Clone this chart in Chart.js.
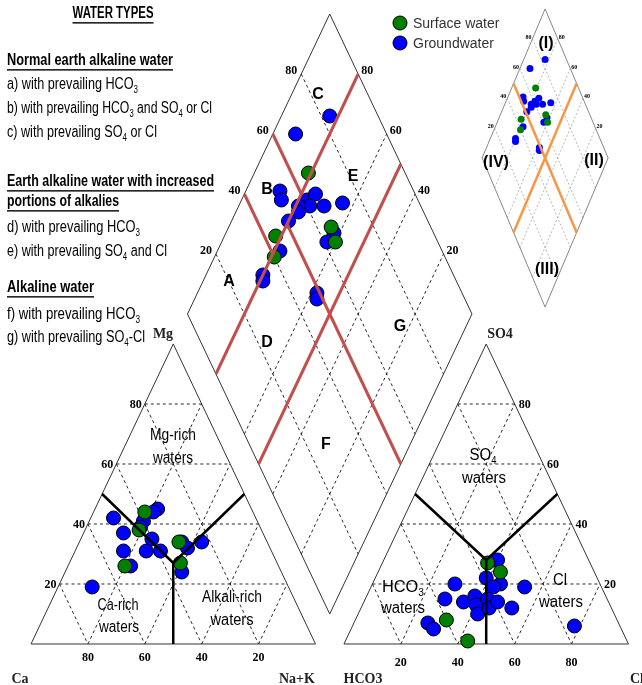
<!DOCTYPE html>
<html>
<head>
<meta charset="utf-8">
<script src="https://cdn.jsdelivr.net/npm/chart.js@4.4.0/dist/chart.umd.min.js"></script>
<style>
body { margin: 0; background: #fff; }
</style>
</head>
<body>
<canvas id="piper" width="642" height="685"></canvas>
<script>
// cation triangle, each sample [Ca, Mg, Na+K] in %
const gwCations = [[69, 19, 12], [50, 42, 8], [49, 37, 14], [52, 31, 17], [52, 26, 22], [40, 41, 19],
  [33, 45, 22], [35, 44, 21], [40, 35, 25], [44, 31, 25], [39, 31, 30], [42, 39, 19],
  [30, 34, 36], [29, 32, 39], [23, 34, 43], [35, 24, 41]];
const swCations = [[38, 44, 18], [43, 38, 19], [54, 26, 20], [31, 34, 35], [34, 27, 39]];

// anion triangle, each sample [HCO3, SO4, Cl] in %
const gwAnions = [[32, 28, 40], [39, 22, 39], [35, 20, 45], [38, 19, 43], [27, 19, 54], [51, 20, 29],
  [57, 15, 28], [51, 14, 35], [46, 16, 38], [47, 13, 40], [48, 10, 42], [42, 15, 43],
  [43, 12, 45], [39, 14, 47], [35, 12, 53], [67, 7, 26], [66, 5, 29], [16, 6, 78]];
const swAnions = [[36, 27, 37], [33, 24, 43], [60, 8, 32], [56, 1, 43]];

// diamond, each sample [Na+K, SO4+Cl] in %
const gwDiamond = [[17, 83], [8, 68], [12, 53], [14, 52], [23, 61], [25, 65], [25, 61], [21, 57],
  [22, 56], [20, 51], [30, 66], [36, 73], [38, 65], [37, 61], [22, 43], [20, 33], [21, 32],
  [42, 49], [43, 48]];
const swDiamond = [[19, 66], [18, 44], [21, 40], [36, 65], [40, 64]];

const gridTicks = [20, 40, 60, 80];

// ternary -> plot units (triangle side 100, gap 10)
function cat(p) { return {x: p[2] + p[1] / 2, y: p[1]}; }
function an(p) { return {x: 110 + p[2] + p[1] / 2, y: p[1]}; }
function dia(na, s) { return {x: 55 + (na + s) / 2, y: 110 + s - na}; }
// the small copy of the diamond, top right
function small(pt) { return {x: 180.7 + (pt.x - 105) * 0.443, y: 162 + (pt.y - 110) * 0.497}; }

const datasets = [];
function line(pts, color, width, dash, order) {
  datasets.push({data: pts, showLine: true, borderColor: color, borderWidth: width,
    borderDash: dash || [], pointRadius: 0, pointHoverRadius: 0, order: order});
}
function dots(pts, color, r, border, order) {
  datasets.push({data: pts, showLine: false, backgroundColor: color,
    borderColor: border ? '#000' : color, borderWidth: border ? 1 : 0,
    pointRadius: r, pointHoverRadius: r, order: order});
}

// dashed grids
gridTicks.forEach(v => {
  line([cat([100 - v, v, 0]), cat([0, v, 100 - v])], '#111', 0.9, [3, 3], 5);
  line([cat([v, 100 - v, 0]), cat([v, 0, 100 - v])], '#111', 0.9, [3, 3], 5);
  line([cat([100 - v, 0, v]), cat([0, 100 - v, v])], '#111', 0.9, [3, 3], 5);
  line([an([100 - v, v, 0]), an([0, v, 100 - v])], '#111', 0.9, [3, 3], 5);
  line([an([v, 100 - v, 0]), an([v, 0, 100 - v])], '#111', 0.9, [3, 3], 5);
  line([an([100 - v, 0, v]), an([0, 100 - v, v])], '#111', 0.9, [3, 3], 5);
  line([dia(v, 0), dia(v, 100)], '#111', 0.9, [3, 3], 5);
  line([dia(0, v), dia(100, v)], '#111', 0.9, [3, 3], 5);
  line([small(dia(v, 0)), small(dia(v, 100))], '#999', 0.7, [2, 2], 5);
  line([small(dia(0, v)), small(dia(100, v))], '#999', 0.7, [2, 2], 5);
});

// frames
line([cat([100, 0, 0]), cat([0, 0, 100]), cat([0, 100, 0]), cat([100, 0, 0])], '#333', 1, null, 4);
line([an([100, 0, 0]), an([0, 0, 100]), an([0, 100, 0]), an([100, 0, 0])], '#333', 1, null, 4);
line([dia(0, 0), dia(100, 0), dia(100, 100), dia(0, 100), dia(0, 0)], '#333', 1, null, 4);
line([dia(0, 0), dia(100, 0), dia(100, 100), dia(0, 100), dia(0, 0)].map(small), '#888', 1, null, 4);

// samples
dots(gwCations.map(cat), '#0000ff', 7, true, 3);
dots(swCations.map(cat), '#008000', 7, true, 2);
dots(gwAnions.map(an), '#0000ff', 7, true, 3);
dots(swAnions.map(an), '#008000', 7, true, 2);
dots(gwDiamond.map(p => dia(p[0], p[1])), '#0000ff', 7, true, 3);
dots(swDiamond.map(p => dia(p[0], p[1])), '#008000', 7, true, 2);
dots(gwDiamond.map(p => small(dia(p[0], p[1]))), '#0000ff', 3.5, false, 3);
dots(swDiamond.map(p => small(dia(p[0], p[1]))), '#008000', 3.5, false, 2);

// water type borders
const red = '#c0504d';
line([dia(20, 100), dia(20, 0)], red, 3, null, 0);
line([dia(50, 100), dia(50, 0)], red, 3, null, 0);
line([dia(20, 50), dia(100, 50)], red, 3, null, 0);
line([dia(0, 60), dia(20, 60)], red, 3, null, 0);
line([dia(0, 40), dia(20, 40)], red, 3, null, 0);
line([small(dia(50, 100)), small(dia(50, 0))], '#f79646', 2.5, null, 0);
line([small(dia(0, 50)), small(dia(100, 50))], '#f79646', 2.5, null, 0);

// facies lines
const jc = cat([36.5, 27, 36.5]), ja = an([36, 28, 36]);
line([cat([50, 50, 0]), jc, cat([0, 50, 50])], '#000', 2.5, null, 0);
line([jc, cat([50, 0, 50])], '#000', 2.5, null, 0);
line([an([50, 50, 0]), ja, an([0, 50, 50])], '#000', 2.5, null, 0);
line([ja, an([50, 0, 50])], '#000', 2.5, null, 0);

const narrow = '"Liberation Sans Narrow", "Liberation Sans", Arial, sans-serif';
const serif = '"Liberation Serif", "Times New Roman", serif';

// text with "_4" style subscripts, optionally squeezed to a width
function rich(ctx, str, x, y, o) {
  const parts = str.split(/_(\d)/);
  const wt = o.bold ? 'bold ' : '';
  const big = wt + o.size + 'px ' + o.family;
  const sub = wt + Math.round(o.size * 0.65) + 'px ' + o.family;
  let w = 0;
  parts.forEach((t, i) => { ctx.font = i % 2 ? sub : big; w += ctx.measureText(t).width; });
  const k = o.width ? o.width / w : 1;
  const x0 = o.align === 'center' ? x - w * k / 2 : o.align === 'right' ? x - w * k : x;
  ctx.save();
  ctx.translate(x0, y);
  ctx.scale(k, 1);
  ctx.fillStyle = o.color || '#000';
  ctx.textAlign = 'left';
  ctx.textBaseline = 'alphabetic';
  let cx = 0;
  parts.forEach((t, i) => {
    ctx.font = i % 2 ? sub : big;
    ctx.fillText(t, cx, i % 2 ? o.size * 0.25 : 0);
    cx += ctx.measureText(t).width;
  });
  if (o.underline) ctx.fillRect(0, o.size * 0.26, w, 1.4);
  ctx.restore();
}

const notes = [
  ['WATER TYPES', 113, 18, 81, true, 'center'],
  ['Normal earth alkaline water', 7, 65, 166, true],
  ['a) with prevailing HCO_3', 7, 89, 131],
  ['b) with prevailing HCO_3 and SO_4 or Cl', 7, 113, 205],
  ['c) with prevailing SO_4 or Cl', 7, 137, 150],
  ['Earth alkaline water with increased', 7, 186, 207, true],
  ['portions of alkalies', 7, 206, 112, true],
  ['d) with prevailing HCO_3', 7, 232, 133],
  ['e) with prevailing SO_4 and Cl', 7, 256, 160],
  ['Alkaline water', 7, 292, 87, true],
  ['f) with prevailing HCO_3', 7, 319, 133],
  ['g) with prevailing SO_4-Cl', 7, 342, 138]
];

const labels = [
  ['A', 229, 286], ['B', 267, 194], ['C', 318, 99], ['D', 267, 347],
  ['E', 353, 181], ['F', 326, 449], ['G', 400, 331]
];

const areaText = [
  ['Mg-rich', 173, 440, 46], ['waters', 173, 463, 40],
  ['Ca-rich', 118, 610, 41], ['waters', 119, 632, 40],
  ['Alkali-rich', 232, 602, 60], ['waters', 232, 625, 43],
  ['SO_4', 483, 460, 27], ['waters', 484, 483, 44],
  ['HCO_3', 403, 592, 42], ['waters', 403, 613, 44],
  ['Cl', 560, 585, 14], ['waters', 561, 607, 44]
];

const textPlugin = {
  id: 'piperText',
  afterDraw(chart) {
    const ctx = chart.ctx;
    const X = v => chart.scales.x.getPixelForValue(v);
    const Y = v => chart.scales.y.getPixelForValue(v);

    notes.forEach(n => rich(ctx, n[0], n[1], n[2], {family: narrow, size: 16, bold: !!n[4],
      underline: !!n[4], width: n[3], align: n[5]}));
    labels.forEach(l => rich(ctx, l[0], l[1], l[2], {family: narrow, size: 16, bold: true, align: 'center'}));
    areaText.forEach(t => rich(ctx, t[0], t[1], t[2], {family: narrow, size: 16, width: t[3], align: 'center'}));

    // tick numbers
    const tk = {family: serif, size: 12, bold: true};
    gridTicks.forEach(v => {
      let p = cat([100 - v, v, 0]);
      rich(ctx, String(v), X(p.x) - 3, Y(p.y) + 4, {...tk, align: 'right'});
      p = cat([v, 0, 100 - v]);
      rich(ctx, String(v), X(p.x), Y(p.y) + 17, {...tk, align: 'center'});
      p = an([0, v, 100 - v]);
      rich(ctx, String(v), X(p.x) + 4, Y(p.y) + 4, tk);
      p = an([100 - v, 0, v]);
      rich(ctx, String(v), X(p.x), Y(p.y) + 22, {...tk, align: 'center'});
      p = dia(0, v);
      rich(ctx, String(v), X(p.x) - 4, Y(p.y), {...tk, align: 'right'});
      p = dia(100 - v, 100);
      rich(ctx, String(v), X(p.x) + 3, Y(p.y), tk);
      p = small(dia(0, v));
      rich(ctx, String(v), X(p.x) - 1, Y(p.y), {family: serif, size: 6, bold: true, align: 'right'});
      p = small(dia(100 - v, 100));
      rich(ctx, String(v), X(p.x) + 1, Y(p.y), {family: serif, size: 6, bold: true});
    });

    const cn = {family: serif, size: 14, bold: true, align: 'center', color: '#222'};
    rich(ctx, 'Mg', 163, 338, cn);
    rich(ctx, 'Ca', 20, 683, cn);
    rich(ctx, 'Na+K', 297, 683, cn);
    rich(ctx, 'SO4', 500, 338, cn);
    rich(ctx, 'HCO3', 363, 683, cn);
    rich(ctx, 'Cl', 637, 683, cn);

    const rn = {family: narrow, size: 16, bold: true, align: 'center'};
    rich(ctx, '(I)', 546, 48, rn);
    rich(ctx, '(II)', 594, 165, rn);
    rich(ctx, '(III)', 547, 274, rn);
    rich(ctx, '(IV)', 496, 167, rn);

    // legend
    [['Surface water', '#008000', 23], ['Groundwater', '#0000ff', 43]].forEach(e => {
      ctx.beginPath();
      ctx.arc(400, e[2], 7, 0, Math.PI * 2);
      ctx.fillStyle = e[1];
      ctx.fill();
      ctx.lineWidth = 1;
      ctx.strokeStyle = '#000';
      ctx.stroke();
      rich(ctx, e[0], 413, e[2] + 5, {family: '"Liberation Sans", Arial, sans-serif', size: 14, color: '#333'});
    });
  }
};

new Chart(document.getElementById('piper'), {
  type: 'scatter',
  data: {datasets: datasets},
  options: {
    responsive: false,
    devicePixelRatio: 1,
    animation: false,
    events: [],
    layout: {padding: 0, autoPadding: false},
    scales: {
      x: {type: 'linear', min: -10.9, max: 214.76, display: false},
      y: {type: 'linear', min: -13.67, max: 214.67, display: false}
    },
    plugins: {
      legend: {display: false},
      tooltip: {enabled: false}
    }
  },
  plugins: [textPlugin]
});
</script>
</body>
</html>
